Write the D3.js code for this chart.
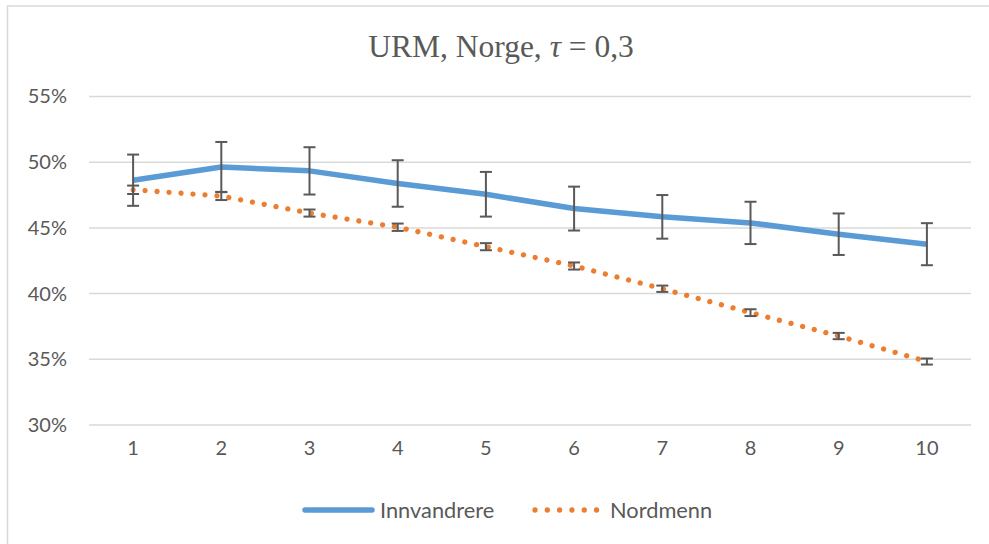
<!DOCTYPE html>
<html>
<head>
<meta charset="utf-8">
<script src="https://cdn.jsdelivr.net/npm/d3@7"></script>
<style>
body { margin: 0; background: #fff; }
svg { display: block; }
</style>
</head>
<body>
<svg id="chart" width="989" height="544"></svg>
<script>
var categories = ["1","2","3","4","5","6","7","8","9","10"];
// Innvandrere, share and half the error bar (percent)
var innvandrere = [48.63, 49.64, 49.34, 48.38, 47.56, 46.47, 45.84, 45.38, 44.52, 43.76];
var innvErr = [1.95, 1.9, 1.8, 1.77, 1.7, 1.67, 1.66, 1.61, 1.58, 1.6];
var nordmenn = [47.9, 47.42, 46.13, 45.05, 43.57, 42.1, 40.37, 38.55, 36.77, 34.83];
var nordErr = [0.32, 0.3, 0.27, 0.28, 0.27, 0.27, 0.24, 0.26, 0.24, 0.23];
var yTicks = [30, 35, 40, 45, 50, 55];

var svg = d3.select("#chart");
var grey = "#595959";

// chart frame (only left and top edge visible)
svg.append("rect")
    .attr("x", 7.5).attr("y", 6)
    .attr("width", 1000).attr("height", 600)
    .attr("fill", "none")
    .attr("stroke", "#d9d9d9")
    .attr("stroke-width", 1.5);

var x = d3.scaleBand().domain(categories).range([89, 971]),
    y = d3.scaleLinear().domain([30, 55]).range([425, 96.5]);

svg.append("text")
    .attr("x", 501).attr("y", 57)
    .attr("text-anchor", "middle")
    .attr("font-family", "'Liberation Serif', 'Times New Roman', serif")
    .attr("font-size", 31.5)
    .attr("fill", grey)
    .html("URM, Norge, <tspan font-style='italic'>τ</tspan> = 0,3");

// grid
svg.append("g").selectAll("line").data(yTicks).enter().append("line")
    .attr("x1", 89).attr("x2", 971)
    .attr("y1", d => y(d)).attr("y2", d => y(d))
    .attr("stroke", "#d9d9d9").attr("stroke-width", 1.5);

var font = "Lato, 'Open Sans', sans-serif";
var ya = svg.append("g").attr("transform", "translate(89,0)")
    .call(d3.axisLeft(y).tickValues(yTicks).tickSize(0).tickPadding(22).tickFormat(d => d + "%"));
ya.select(".domain").remove();
ya.selectAll("text").attr("font-family", font).attr("font-size", 20).attr("fill", grey);

var xa = svg.append("g").attr("transform", "translate(0,425)")
    .call(d3.axisBottom(x).tickSize(0).tickPadding(16));
xa.select(".domain").remove();
xa.selectAll("text").attr("font-family", font).attr("font-size", 20).attr("fill", grey);

var cx = d => x(d) + x.bandwidth() / 2;
var line = d3.line().x((d, i) => cx(categories[i])).y(d => y(d));

svg.append("path").datum(innvandrere)
    .attr("d", line).attr("fill", "none")
    .attr("stroke", "#5b9bd5").attr("stroke-width", 5.5)
    .attr("stroke-linejoin", "round");

svg.append("path").datum(nordmenn)
    .attr("d", line).attr("fill", "none")
    .attr("stroke", "#ed7d31").attr("stroke-width", 5.3)
    .attr("stroke-linecap", "round")
    .attr("stroke-dasharray", "0.01 12");

function errorBars(vals, errs) {
    var g = svg.append("g").attr("stroke", grey).attr("stroke-width", 2);
    vals.forEach(function (v, i) {
        var px = cx(categories[i]), t = y(v + errs[i]), b = y(v - errs[i]);
        g.append("line").attr("x1", px).attr("x2", px).attr("y1", t).attr("y2", b);
        g.append("line").attr("x1", px - 6).attr("x2", px + 6).attr("y1", t).attr("y2", t);
        g.append("line").attr("x1", px - 6).attr("x2", px + 6).attr("y1", b).attr("y2", b);
    });
}
errorBars(innvandrere, innvErr);
errorBars(nordmenn, nordErr);

// legend
var leg = svg.append("g").attr("font-family", font).attr("font-size", 21.8).attr("fill", grey);
leg.append("line").attr("x1", 305).attr("x2", 372).attr("y1", 510).attr("y2", 510)
    .attr("stroke", "#5b9bd5").attr("stroke-width", 5.5).attr("stroke-linecap", "round");
leg.append("text").attr("x", 380).attr("y", 517.5).text("Innvandrere");
leg.append("line").attr("x1", 535).attr("x2", 597).attr("y1", 510).attr("y2", 510)
    .attr("stroke", "#ed7d31").attr("stroke-width", 5.3).attr("stroke-linecap", "round")
    .attr("stroke-dasharray", "0.01 12.3");
leg.append("text").attr("x", 610).attr("y", 517.5).text("Nordmenn");
</script>
</body>
</html>
